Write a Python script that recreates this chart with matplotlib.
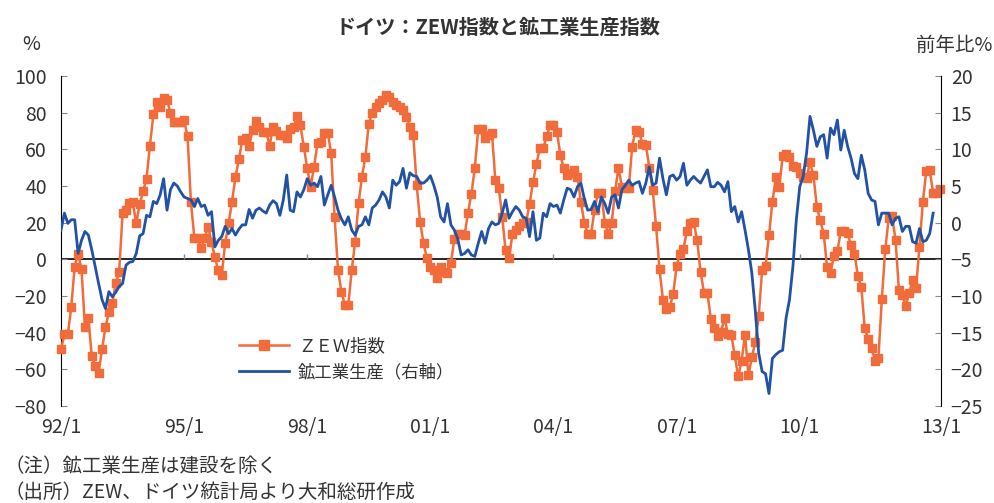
"""Germany: ZEW sentiment vs industrial production (YoY)"""

import matplotlib
matplotlib.use("Agg")
import matplotlib.pyplot as plt
import numpy as np

plt.rcParams['font.family'] = ['Noto Sans CJK JP', 'DejaVu Sans']

# ZEW economic sentiment, monthly from 1992/1
zew = [
    -49, -41, -41, -26, -4, 3, -5.5, -37, -32, -53, -58, -62,          # 1992
    -49, -37, -29, -24, -13, -7, 25, 27, 30.5, 31, 19.6, 30,           # 1993
    37, 44, 62, 79, 86, 83, 88, 87, 80, 75, 75, 75,                    # 1994
    76, 67, 31, 11.5, 11.5, 6, 11.5, 17.8, 9.6, 1, -6, -8.5,           # 1995
    8.7, 19.6, 31.5, 44.7, 54.5, 65, 66, 62, 70.5, 75.6, 72, 69.6,     # 1996
    69.6, 62, 72, 70, 68, 68, 66, 71, 72, 78, 73, 61.5,                # 1997
    49.6, 39.6, 50.5, 63.6, 64, 68.7, 69, 57.8, 23, -6, -17.6, -25,    # 1998
    -25, -6, 9.6, 30.5, 45, 56, 74, 80, 83, 85, 87, 89.6,              # 1999
    88.7, 86, 84, 83, 81.5, 77.8, 72.4, 67.8, 40.5, 20.5, 8.7, 0.5,    # 2000
    -4, -5.8, -10.4, -4, -7, -7.6, -2.2, 11, 14, 14, 13, 25.5,         # 2001
    35.6, 50, 71, 71, 66, 68, 69, 43, 39, 23, 5, 0.5,                  # 2002
    14, 16, 18, 20, 20.5, 30, 42, 52, 60.5, 60.5, 67, 73,              # 2003
    73, 69.6, 57, 49.6, 46, 47, 48.7, 45, 31.5, 20, 14, 14,            # 2004
    27, 36, 36, 20, 14, 19.6, 37, 50, 39.6, 38.7, 38.7, 61.5,          # 2005
    70.5, 69.6, 63, 62.4, 50, 37.8, 18, -5.5, -22, -27, -26, -19,      # 2006
    -3.6, 2.9, 5.8, 15.3, 20.0, 20.3, 10.4, -6.9, -18.1, -18.1, -32.5, -37.2,   # 2007
    -41.6, -39.5, -32.0, -40.7, -41.4, -52.4, -63.9, -55.5, -41.1, -63.0, -53.5, -45.2,  # 2008
    -31.0, -5.8, -3.5, 13.0, 31.1, 44.8, 39.5, 56.1, 57.7, 56.0, 51.1, 50.4,    # 2009
    47.2, 45.1, 44.5, 53.0, 45.8, 28.7, 21.2, 14.0, -4.3, -7.2, 1.8, 4.3,       # 2010
    15.4, 15.7, 14.1, 7.6, 3.1, -9.0, -15.1, -37.6, -43.3, -48.3, -55.2, -53.8,  # 2011
    -21.6, 5.4, 22.3, 23.4, 10.8, -16.9, -19.6, -25.5, -18.2, -11.5, -15.7, 6.9,  # 2012
    31.5, 48.2, 48.5, 36.3, 36.4, 38.5,                                # 2013
]

# industrial production excl. construction, % YoY (right axis)
ip = [
    -1, 1.3, -0.1, 0.4, 0.4, -4.2, -2.4, -1.2, -1.7, -3.7, -6, -8.3,   # 1992
    -10.5, -11.7, -9.4, -10.1, -9.5, -8.7, -8.3, -5.8, -5.4, -5.3, -4.2, -1.8,  # 1993
    -1.5, 1, 0.8, 2.9, 2.6, 3.8, 6, 1.7, 4.5, 5.4, 5, 4.2,             # 1994
    3.5, 3.3, 3.1, 2.2, 3.3, 2.2, 2.4, 1, 1.5, -3.3, -2.4, -1.9,       # 1995
    -0.5, -1.5, -0.8, -1.7, -0.9, -0.3, -0.3, 1.8, 0.6, 1.7, 2, 1.6,   # 1996
    1.3, 2.4, 3.0, 2.6, 1, 3.1, 6.5, 1.7, 1.5, 4.2, 3.5, 4.5,          # 1997
    6, 5.1, 5.4, 4.9, 6.3, 2.4, 3.8, 5.1, 3.5, 1.7, 0.5, -0.3,         # 1998
    0.8, -1, -1.7, -0.5, -0.3, 0.8, -0.3, 2, 2.4, 3.1, 4.2, 3.5,       # 1999
    2, 5.8, 5.1, 5.6, 7.4, 4.7, 6.8, 6.4, 6.3, 5.4, 5.4, 5.8,          # 2000
    6.4, 5.1, 3.5, 0.8, 0.1, 2.6, -0.3, -1, -2.2, -4.4, -4.2, -3.7,    # 2001
    -4.4, -4.6, -2.8, -1.2, -2.8, -0.8, 0.1, -0.3, -0.1, 1.3, 3.1, 0.6,  # 2002
    1.5, 2.2, 1.7, 0.8, 0.6, -1.9, 1.5, -2.4, -2.1, 1.3, 0.8, 2.6,     # 2003
    2.2, 2.4, 1.3, 3.1, 4.7, 4.5, 3.5, 4.9, 5.4, 3.3, 1.7, 1.8,        # 2004
    2.9, 1.5, 3.5, 2.6, 1.3, 3.5, 3.8, 2, 4.5, 5.1, 5.8, 5.1,          # 2005
    5.4, 5.6, 4, 5.4, 7.6, 5.1, 5.4, 8.8, 6, 3.8, 6.3, 6.5,            # 2006
    5.8, 6.3, 8.1, 5.1, 5.8, 6.3, 5.8, 5.4, 6.3, 7.2, 4.9, 4.9,        # 2007
    5.5, 5.1, 4.2, 5.6, 1.5, 2.2, 0.1, 1.5, -1, -3.7, -6.9, -12,       # 2008
    -17.8, -20.3, -20.6, -23.3, -18.5, -18, -17.6, -17.4, -13, -10.5, -6, 0.4,  # 2009
    4.9, 6.3, 9.5, 14.5, 12.6, 10.4, 11.7, 12, 8.8, 12.9, 12, 14,      # 2010
    9.9, 12.6, 10.4, 8.8, 6.7, 6, 9.2, 7.2, 4, 3.1, 2.9, -0.3,         # 2011
    1.3, 1.3, 1.3, -0.3, 0.6, 0.8, -1.2, -0.5, -0.5, -2.6, -2.8, -0.8,  # 2012
    -2.6, -2.4, -1.5, 1.3,                                             # 2013
]

tick_labels = ["92/1", "95/1", "98/1", "01/1", "04/1", "07/1", "10/1", "13/1"]

orange = "#F26B3A"
blue = "#2152A3"
text_c = "#333333"

x_zew = np.arange(len(zew))
x_ip = np.arange(len(ip))
x_end = 257.3

fig = plt.figure(figsize=(9.95, 5.03), dpi=100)
ax = fig.add_axes([61 / 995, 1 - 406 / 503, 880 / 995, 330 / 503])
ax2 = ax.twinx()

# zero line with small ticks every 3 years
ax.axhline(0, color="black", lw=1.2, zorder=1)
ax.vlines(np.arange(36, 217, 36), 0, 2.8, color="#888888", lw=1, zorder=1)

l1, = ax.plot(x_zew, zew, color=orange, lw=1.8, marker="s", ms=6,
              clip_on=False, zorder=3)
l2, = ax2.plot(x_ip, ip, color=blue, lw=2.0, zorder=3)

ax.set_xlim(0, x_end)
ax.set_ylim(-80, 100)
ax.set_yticks(np.arange(-80, 101, 20))
ax2.set_ylim(-25, 20)
ax2.set_yticks(np.arange(-25, 21, 5))

tick_pos = list(np.arange(0, 217, 36)) + [x_end]
ax.set_xticks(tick_pos)
ax.set_xticklabels(tick_labels)
ax.tick_params(axis="x", length=0, pad=8, labelsize=14, labelcolor=text_c)
ax.tick_params(axis="y", direction="in", length=4, color="#888888",
               labelsize=14, labelcolor=text_c, pad=10)
ax2.tick_params(axis="y", direction="in", length=4, color="#888888",
                labelsize=14, labelcolor=text_c, pad=7)

for s in ["top", "bottom", "right"]:
    ax.spines[s].set_visible(False)
for s in ["top", "bottom", "left"]:
    ax2.spines[s].set_visible(False)
ax.spines["left"].set_color("black")
ax2.spines["right"].set_color("black")

fig.legend([l1, l2], ["ＺＥＷ指数", "鉱工業生産（右軸）"],
           loc="center left", bbox_to_anchor=(239 / 995, 1 - 359 / 503),
           frameon=False, fontsize=12.5, handlelength=2.9,
           handletextpad=0.5, labelspacing=0.45, borderpad=0,
           borderaxespad=0, markerscale=1.2, labelcolor=text_c)

fig.text(0.5, 1 - 27 / 503, "ドイツ：ZEW指数と鉱工業生産指数", ha="center",
         va="center", fontsize=14.5, fontweight="bold", color=text_c)
fig.text(31 / 995, 1 - 45 / 503, "%", ha="center", va="center",
         fontsize=14, color=text_c)
fig.text(992 / 995, 1 - 45 / 503, "前年比%", ha="right", va="center",
         fontsize=14, color=text_c)
fig.text(4 / 995, 1 - 466 / 503, "（注）鉱工業生産は建設を除く", ha="left",
         va="center", fontsize=14, color=text_c)
fig.text(4 / 995, 1 - 492 / 503, "（出所）ZEW、ドイツ統計局より大和総研作成",
         ha="left", va="center", fontsize=14, color=text_c)

fig.savefig("out.png", dpi=100)
